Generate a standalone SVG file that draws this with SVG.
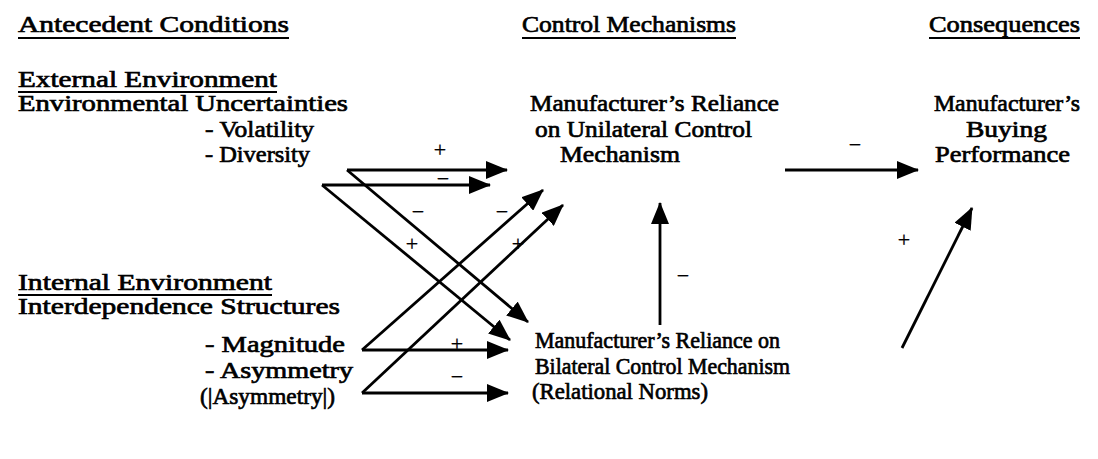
<svg xmlns="http://www.w3.org/2000/svg" width="1098" height="459" viewBox="0 0 1098 459">
<style>
text{font-family:"Liberation Serif","Times New Roman",serif;font-size:24px;fill:#000;stroke:#000;stroke-width:0.7}
.s{font-size:22px;stroke-width:0.3}
.u{stroke:#000;stroke-width:2}
.c{fill:none;stroke:#000;stroke-width:2.8}
</style>
<defs>
<marker id="ah" viewBox="0 0 22 18" refX="21" refY="9" markerWidth="22" markerHeight="18" markerUnits="userSpaceOnUse" orient="auto"><path d="M0,0 L22,9 L0,18 z" fill="#000"/></marker>
</defs>
<rect width="1098" height="459" fill="#fff"/>
<g id="headers">
<text x="18" y="32" textLength="271" lengthAdjust="spacingAndGlyphs">Antecedent Conditions</text>
<line class="u" x1="18" y1="38" x2="289" y2="38"/>
<text x="522" y="32" textLength="214" lengthAdjust="spacingAndGlyphs">Control Mechanisms</text>
<line class="u" x1="522" y1="38" x2="736" y2="38"/>
<text x="929" y="32" textLength="151" lengthAdjust="spacingAndGlyphs">Consequences</text>
<line class="u" x1="929" y1="38" x2="1080" y2="38"/>
</g>
<g id="external">
<text x="18" y="87" textLength="259" lengthAdjust="spacingAndGlyphs">External Environment</text>
<line class="u" x1="18" y1="92" x2="277" y2="92"/>
<text x="18" y="111" textLength="330" lengthAdjust="spacingAndGlyphs">Environmental Uncertainties</text>
<text x="205" y="137" textLength="109" lengthAdjust="spacingAndGlyphs">- Volatility</text>
<text x="205" y="162" textLength="105" lengthAdjust="spacingAndGlyphs">- Diversity</text>
</g>
<g id="internal">
<text x="18" y="290" textLength="254" lengthAdjust="spacingAndGlyphs">Internal Environment</text>
<line class="u" x1="18" y1="295" x2="272" y2="295"/>
<text x="18" y="314" textLength="322" lengthAdjust="spacingAndGlyphs">Interdependence Structures</text>
<text x="205" y="352" textLength="140" lengthAdjust="spacingAndGlyphs">- Magnitude</text>
<text x="205" y="378" textLength="148" lengthAdjust="spacingAndGlyphs">- Asymmetry</text>
<text x="200" y="404" textLength="135" lengthAdjust="spacingAndGlyphs">(|Asymmetry|)</text>
</g>
<g id="unilateral">
<text x="530" y="111" textLength="249" lengthAdjust="spacingAndGlyphs">Manufacturer’s Reliance</text>
<text x="535" y="137" textLength="217" lengthAdjust="spacingAndGlyphs">on Unilateral Control</text>
<text x="560" y="162" textLength="120" lengthAdjust="spacingAndGlyphs">Mechanism</text>
</g>
<g id="performance">
<text x="934" y="111" textLength="146" lengthAdjust="spacingAndGlyphs">Manufacturer’s</text>
<text x="966" y="137" textLength="81" lengthAdjust="spacingAndGlyphs">Buying</text>
<text x="935" y="162" textLength="135" lengthAdjust="spacingAndGlyphs">Performance</text>
</g>
<g id="bilateral">
<text x="535" y="348" textLength="245" lengthAdjust="spacingAndGlyphs">Manufacturer’s Reliance on</text>
<text x="535" y="374" textLength="255" lengthAdjust="spacingAndGlyphs">Bilateral Control Mechanism</text>
<text x="532" y="399" textLength="176" lengthAdjust="spacingAndGlyphs">(Relational Norms)</text>
</g>
<g id="connectors">
<path class="c" marker-end="url(#ah)" d="M347,170 H507"/>
<path class="c" marker-end="url(#ah)" d="M322,185 H490"/>
<path class="c" marker-end="url(#ah)" d="M347,170 L528,322"/>
<path class="c" marker-end="url(#ah)" d="M322,185 L510,340"/>
<path class="c" marker-end="url(#ah)" d="M362,350 L543,190"/>
<path class="c" marker-end="url(#ah)" d="M362,393 L563,205"/>
<path class="c" marker-end="url(#ah)" d="M362,350 H508"/>
<path class="c" marker-end="url(#ah)" d="M362,393 H508"/>
<path class="c" marker-end="url(#ah)" d="M660,325 V203"/>
<path class="c" marker-end="url(#ah)" d="M785,170 H918"/>
<path class="c" marker-end="url(#ah)" d="M902,348 L972,208"/>
</g>
<g id="signs">
<text class="s" x="440" y="157" text-anchor="middle">+</text>
<text class="s" x="443" y="186" text-anchor="middle">−</text>
<text class="s" x="418" y="219" text-anchor="middle">−</text>
<text class="s" x="412" y="251" text-anchor="middle">+</text>
<text class="s" x="502" y="219" text-anchor="middle">−</text>
<text class="s" x="518" y="251" text-anchor="middle">+</text>
<text class="s" x="457" y="351" text-anchor="middle">+</text>
<text class="s" x="457" y="384" text-anchor="middle">−</text>
<text class="s" x="683" y="283" text-anchor="middle">−</text>
<text class="s" x="855" y="152" text-anchor="middle">−</text>
<text class="s" x="904" y="247" text-anchor="middle">+</text>
</g>
</svg>
